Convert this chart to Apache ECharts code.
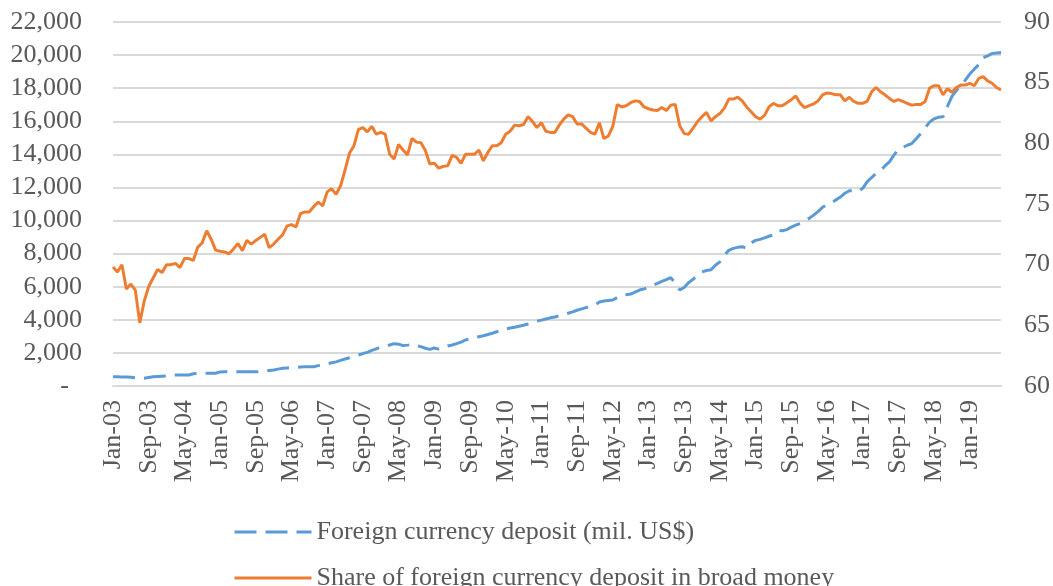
<!DOCTYPE html>
<html>
<head>
<meta charset="utf-8">
<script src="https://cdn.jsdelivr.net/npm/echarts@6/dist/echarts.min.js"></script>
<style>
  html, body { margin: 0; padding: 0; background: #fff; }
  #chart { width: 1053px; height: 586px; }
</style>
</head>
<body>
<div id="chart"></div>
<script>
// monthly, Jan-03 .. Aug-19
const monthNames = ['Jan', 'Feb', 'Mar', 'Apr', 'May', 'Jun', 'Jul', 'Aug', 'Sep', 'Oct', 'Nov', 'Dec'];
const months = [];
for (let y = 3; y <= 19; y++) {
    for (let m = 0; m < 12; m++) {
        if (y === 19 && m > 7) break;
        months.push(monthNames[m] + '-' + String(y).padStart(2, '0'));
    }
}

// Foreign currency deposit (mil. US$), left axis
const deposit = [
    560, 555, 550, 545, 530, 500, 470, 465, 520, 560, 575, 590,
    605, 630, 660, 665, 665, 665, 740, 767, 767, 767, 767, 770,
    850, 866, 866, 866, 866, 866, 866, 866, 866, 866, 900, 940,
    967, 1020, 1068, 1090, 1105, 1130, 1150, 1168, 1168, 1168, 1230, 1290,
    1340, 1400, 1460, 1550, 1630, 1710, 1790, 1870, 1960, 2030, 2150, 2240,
    2370, 2430, 2480, 2560, 2530, 2440, 2470, 2510, 2430, 2380, 2280, 2216,
    2300, 2230, 2300, 2418, 2480, 2560, 2650, 2780, 2860, 2920, 2980, 3040,
    3110, 3190, 3280, 3360, 3450, 3500, 3550, 3610, 3670, 3750, 3830, 3920,
    3980, 4050, 4120, 4170, 4240, 4320, 4400, 4480, 4580, 4660, 4740, 4820,
    4890, 5080, 5140, 5170, 5200, 5350, 5480, 5520, 5555, 5680, 5800, 5870,
    5950, 6080, 6200, 6320, 6430, 6550, 6200, 5800, 5950, 6250, 6450, 6700,
    6900, 6980, 7020, 7300, 7500, 7900, 8200, 8320, 8380, 8420, 8330, 8650,
    8800, 8860, 8950, 9050, 9150, 9400, 9380, 9450, 9600, 9720, 9820, 9980,
    10130, 10330, 10540, 10800, 10950, 11070, 11250, 11420, 11650, 11800, 11800, 11760,
    11950, 12340, 12600, 12850, 13030, 13300, 13550, 13950, 14300, 14420, 14550, 14650,
    14950, 15250, 15600, 15950, 16150, 16250, 16270, 16900, 17500, 17850, 18200, 18480,
    18850, 19150, 19420, 19850, 19950, 20100, 20120, 20160
];

// Share of foreign currency deposit in broad money (%), right axis
const share = [
    69.8, 69.4, 70.0, 68.0, 68.4, 67.9, 65.2, 67.0, 68.2, 68.9, 69.6, 69.35,
    70.0, 70.0, 70.1, 69.75, 70.5, 70.5, 70.35, 71.45, 71.8, 72.8, 72.1, 71.2,
    71.1, 71.05, 70.9, 71.3, 71.75, 71.15, 72.0, 71.7, 72.0, 72.25, 72.5, 71.4,
    71.7, 72.1, 72.45, 73.2, 73.3, 73.1, 74.2, 74.35, 74.35, 74.8, 75.15, 74.85,
    76.0, 76.25, 75.8, 76.5, 77.8, 79.2, 79.8, 81.15, 81.3, 80.95, 81.4, 80.75,
    80.9, 80.75, 79.1, 78.7, 79.9, 79.45, 79.05, 80.4, 80.1, 80.05, 79.4, 78.3,
    78.35, 77.95, 78.1, 78.15, 79.0, 78.85, 78.35, 79.1, 79.1, 79.1, 79.45, 78.55,
    79.25, 79.8, 79.8, 80.05, 80.75, 81.0, 81.5, 81.45, 81.55, 82.2, 81.8, 81.3,
    81.7, 81.0, 80.9, 80.9, 81.5, 82.0, 82.35, 82.2, 81.6, 81.6, 81.25, 80.9,
    80.75, 81.7, 80.4, 80.6, 81.4, 83.2, 83.0, 83.1, 83.35, 83.5, 83.45, 83.0,
    82.85, 82.75, 82.7, 82.95, 82.7, 83.15, 83.2, 81.45, 80.8, 80.75, 81.25, 81.8,
    82.2, 82.55, 81.85, 82.2, 82.45, 82.9, 83.65, 83.65, 83.8, 83.5, 83.0, 82.6,
    82.2, 82.0, 82.3, 83.0, 83.3, 83.1, 83.1, 83.35, 83.6, 83.9, 83.3, 82.95,
    83.1, 83.25, 83.5, 84.0, 84.15, 84.1, 84.0, 84.0, 83.5, 83.8, 83.45, 83.3,
    83.3, 83.45, 84.25, 84.6, 84.25, 84.0, 83.7, 83.45, 83.6, 83.45, 83.3, 83.15,
    83.2, 83.2, 83.45, 84.55, 84.75, 84.75, 84.0, 84.5, 84.2, 84.6, 84.8, 84.8,
    84.95, 84.75, 85.35, 85.5, 85.15, 84.95, 84.6, 84.4
];

const seriesNames = [
    'Foreign currency deposit (mil. US$)',
    'Share of foreign currency deposit in broad money'
];

const font = 'Liberation Serif';
const grey = '#595959';
const gridColor = '#d9d9d9';

const chart = echarts.init(document.getElementById('chart'));

// one legend per row, stacked like the original
const legendBase = {
    orient: 'horizontal',
    left: 228,
    itemWidth: 77,
    itemHeight: 14,
    itemStyle: { opacity: 0 },
    lineStyle: { width: 3 },
    textStyle: { fontFamily: font, fontSize: 26, color: grey }
};

chart.setOption({
    animation: false,
    textStyle: { fontFamily: font },
    grid: { left: 113, right: 50, top: 22, bottom: 200 },
    legend: [
        Object.assign({}, legendBase, { top: 514, data: [seriesNames[0]] }),
        Object.assign({}, legendBase, { top: 560, data: [seriesNames[1]] })
    ],
    xAxis: {
        type: 'category',
        data: months,
        boundaryGap: false,
        axisLine: { lineStyle: { color: gridColor, width: 2 } },
        axisTick: { show: false },
        axisLabel: {
            interval: 7,
            rotate: 90,
            margin: 14,
            fontFamily: font,
            fontSize: 26,
            color: grey
        }
    },
    yAxis: [
        {
            type: 'value',
            min: 0,
            max: 22000,
            interval: 2000,
            axisLine: { show: false },
            axisTick: { show: false },
            splitLine: { lineStyle: { color: gridColor, width: 2 } },
            axisLabel: {
                margin: 31,
                fontFamily: font,
                fontSize: 26,
                color: grey,
                formatter: v => v === 0 ? '-  ' : v.toLocaleString('en-US')
            }
        },
        {
            type: 'value',
            min: 60,
            max: 90,
            interval: 5,
            position: 'right',
            axisLine: { show: false },
            axisTick: { show: false },
            splitLine: { show: false },
            axisLabel: {
                margin: 23,
                fontFamily: font,
                fontSize: 26,
                color: grey
            }
        }
    ],
    series: [
        {
            name: seriesNames[0],
            type: 'line',
            yAxisIndex: 0,
            data: deposit,
            symbol: 'none',
            lineStyle: { color: '#5B9BD5', width: 3, type: [22, 9] },
            itemStyle: { color: '#5B9BD5' }
        },
        {
            name: seriesNames[1],
            type: 'line',
            yAxisIndex: 1,
            data: share,
            symbol: 'none',
            lineStyle: { color: '#ED7D31', width: 3 },
            itemStyle: { color: '#ED7D31' }
        }
    ]
});
</script>
</body>
</html>
